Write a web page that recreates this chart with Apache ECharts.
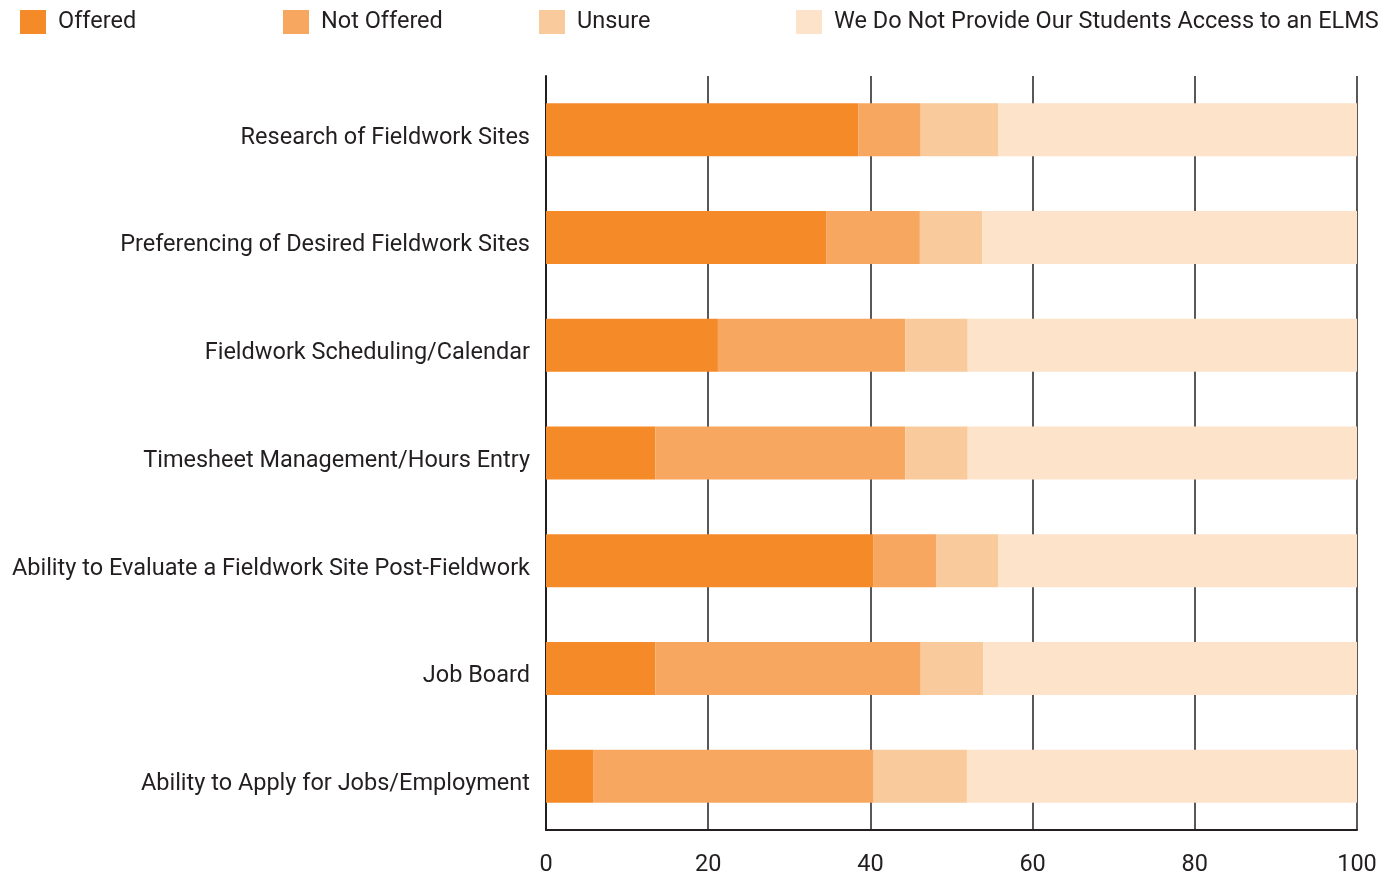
<!DOCTYPE html>
<html>
<head>
<meta charset="utf-8">
<script src="https://cdn.jsdelivr.net/npm/echarts@6/dist/echarts.min.js"></script>
<style>
  html, body { margin: 0; padding: 0; background: #fff; }
  #chart { width: 1393px; height: 877px; }
</style>
</head>
<body>
<div id="chart"></div>
<script>
// categories, top to bottom
var categories = [
  'Research of Fieldwork Sites',
  'Preferencing of Desired Fieldwork Sites',
  'Fieldwork Scheduling/Calendar',
  'Timesheet Management/Hours Entry',
  'Ability to Evaluate a Fieldwork Site Post-Fieldwork',
  'Job Board',
  'Ability to Apply for Jobs/Employment'
];
var seriesNames = ['Offered', 'Not Offered', 'Unsure', 'We Do Not Provide Our Students Access to an ELMS'];
var offered    = [38.5, 34.6, 21.2, 13.5, 40.4, 13.5, 5.8];
var notOffered = [7.7, 11.5, 23.1, 30.8, 7.7, 32.7, 34.6];
var unsure     = [9.6, 7.7, 7.7, 7.7, 7.7, 7.7, 11.5];
var noAccess   = [44.2, 46.2, 48.1, 48.1, 44.2, 46.2, 48.1];
var xTicks = [0, 20, 40, 60, 80, 100];

var colors = ['#F58A29', '#F8A761', '#F9CA9B', '#FDE3C9'];
var values = [offered, notOffered, unsure, noAccess];
var fontFam = 'Roboto';
var textColor = '#231F20';

var chartDom = document.getElementById('chart');
var myChart = echarts.init(chartDom);
var option;

var legendLefts = [20, 283, 539, 796];
var legends = seriesNames.map(function (name, i) {
  return {
    data: [name],
    left: legendLefts[i],
    top: 10,
    padding: 0,
    itemWidth: 26,
    itemHeight: 24,
    itemGap: 0,
    icon: 'rect',
    selectedMode: false,
    textStyle: { fontFamily: fontFam, fontSize: 23.5, color: textColor, padding: [3, 0, 0, 7] }
  };
});

option = {
  animation: false,
  color: colors,
  legend: legends,
  grid: { left: 546, right: 36, top: 76, bottom: 47 },
  xAxis: {
    type: 'value',
    min: xTicks[0],
    max: xTicks[xTicks.length - 1],
    interval: 20,
    axisLine: { show: true, lineStyle: { color: textColor, width: 2 } },
    axisTick: { show: false },
    axisLabel: { fontFamily: fontFam, fontSize: 23.5, color: textColor, margin: 23 },
    splitLine: { show: true, lineStyle: { color: textColor, width: 1.5 } }
  },
  yAxis: {
    type: 'category',
    data: categories,
    inverse: true,
    axisLine: { show: true, lineStyle: { color: textColor, width: 2 } },
    axisTick: { show: false },
    axisLabel: {
      fontFamily: fontFam, fontSize: 23.5, color: textColor, margin: 16,
      verticalAlign: 'top', lineHeight: 16
    }
  },
  series: seriesNames.map(function (name, i) {
    return {
      name: name,
      type: 'bar',
      stack: 'total',
      barWidth: 53,
      data: values[i]
    };
  })
};

option && myChart.setOption(option);
</script>
</body>
</html>
